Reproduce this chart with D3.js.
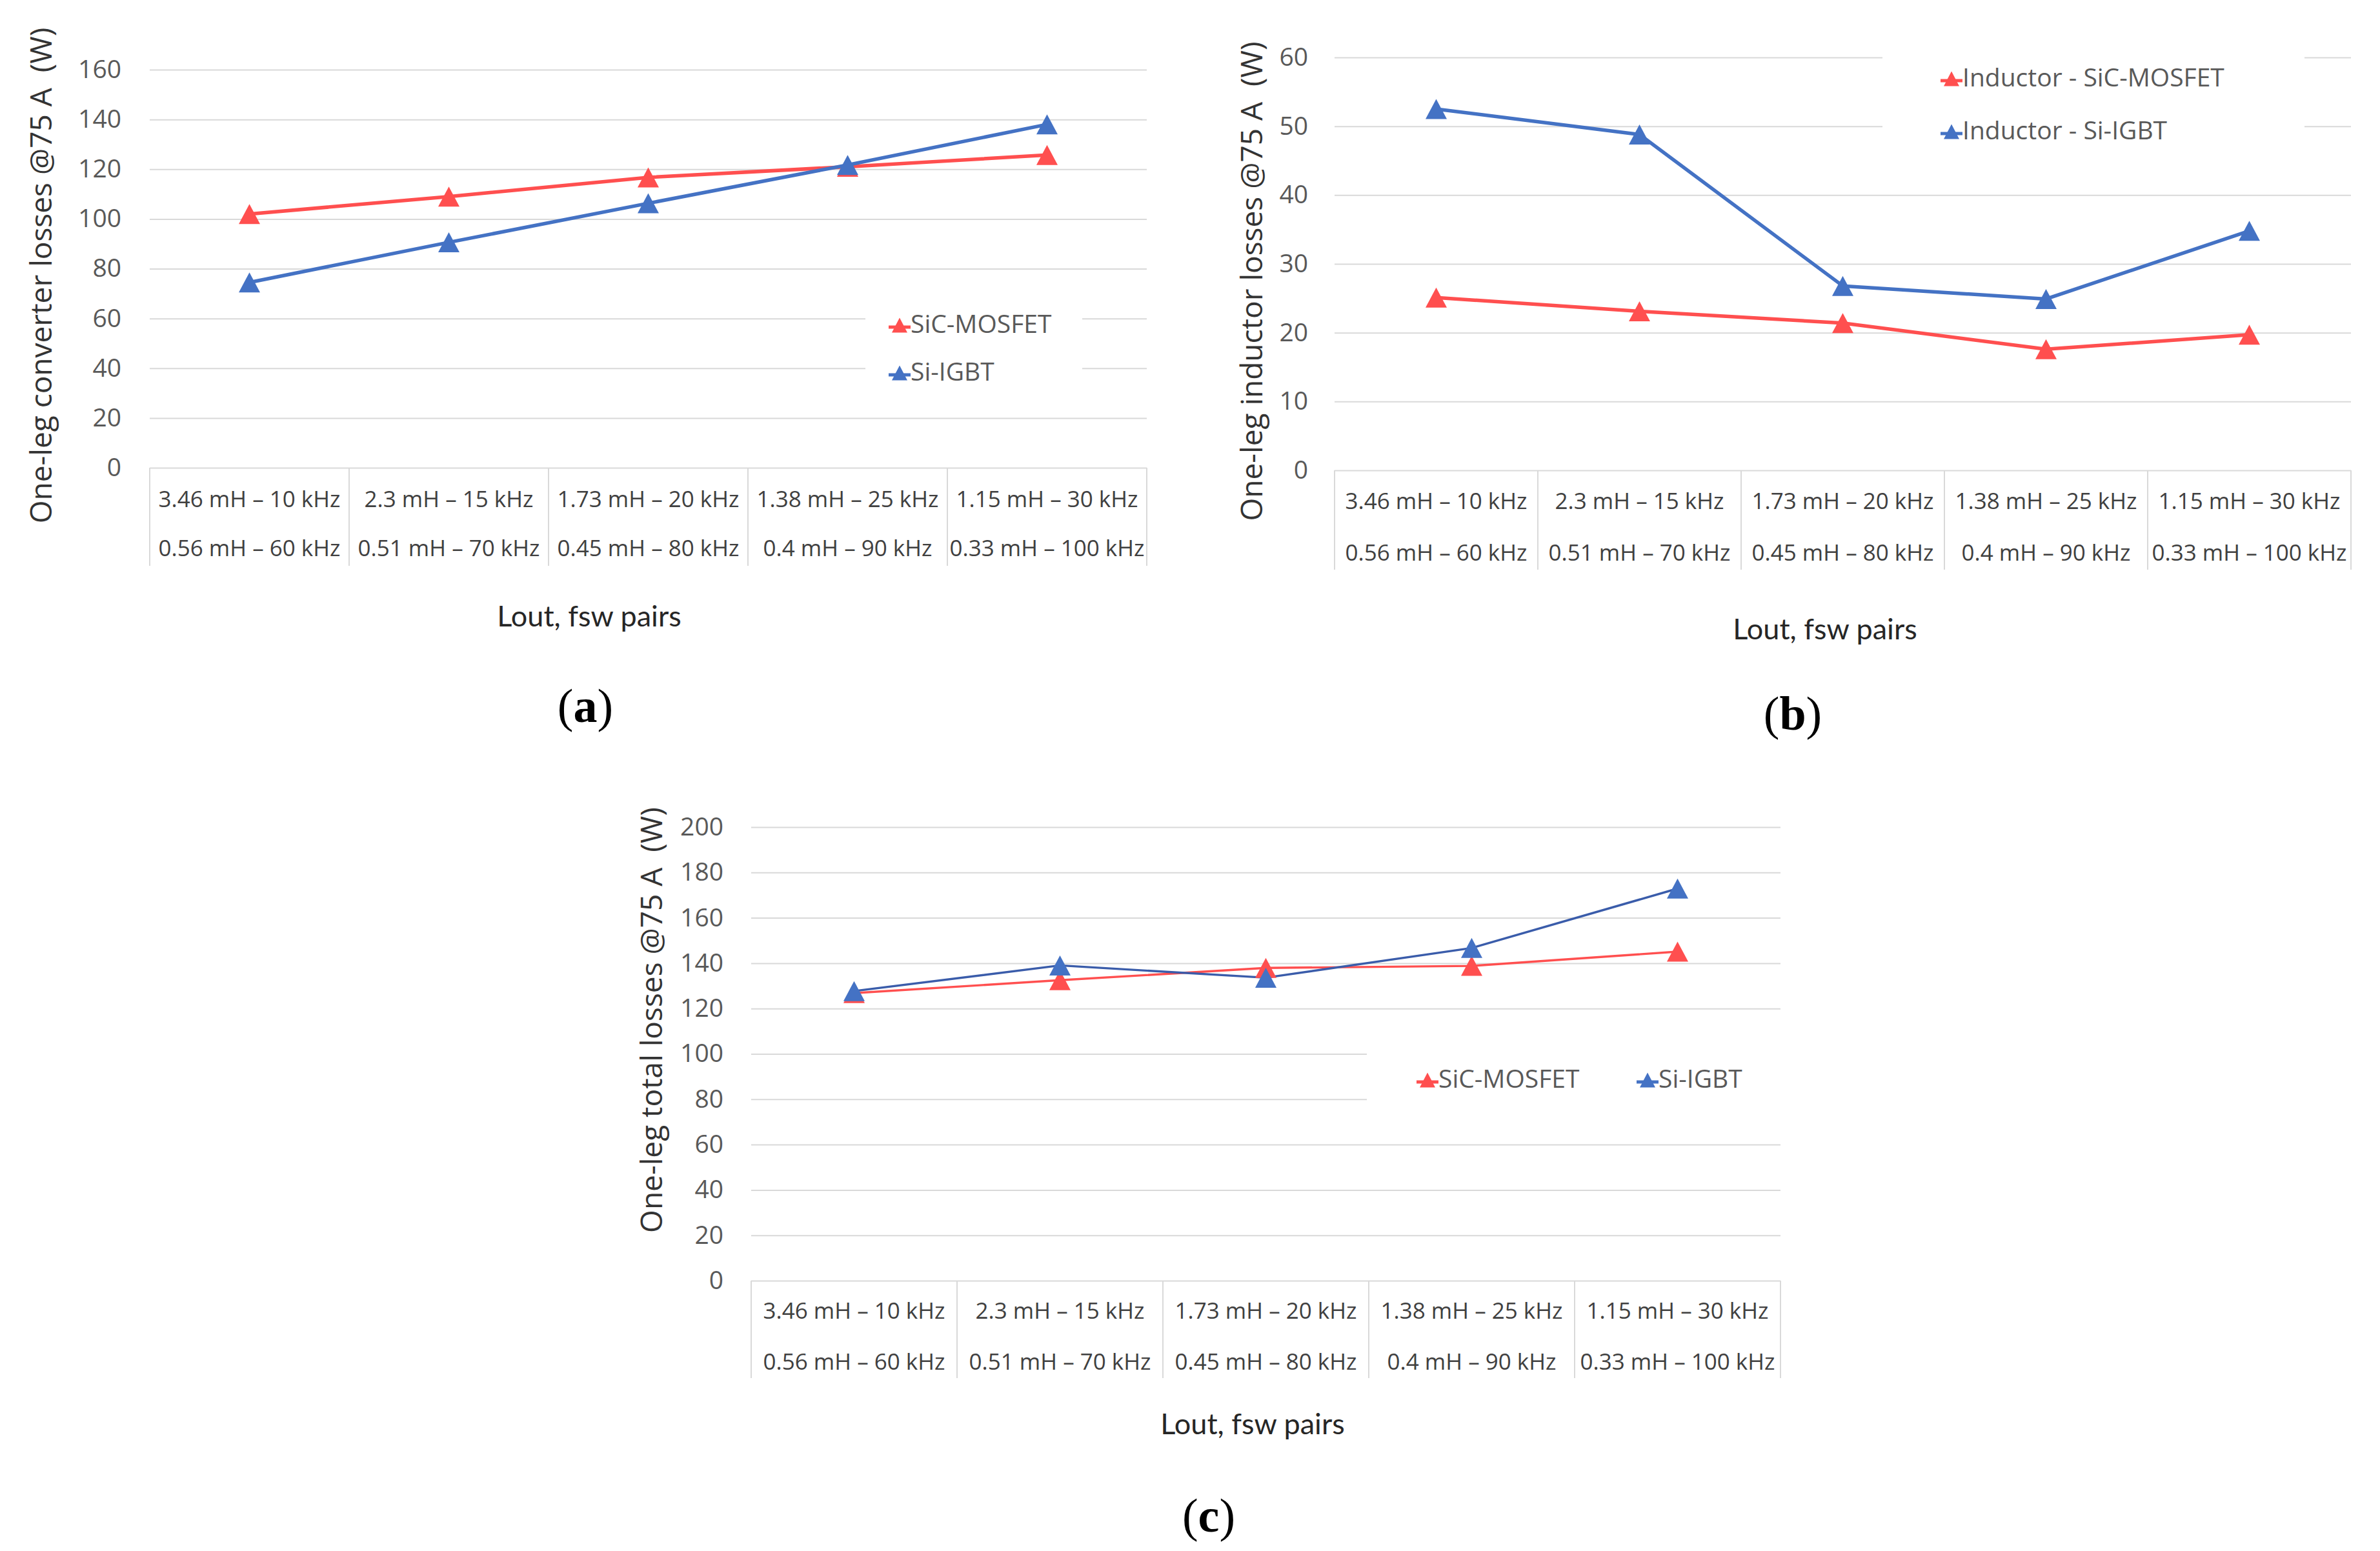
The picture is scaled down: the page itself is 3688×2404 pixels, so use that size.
<!DOCTYPE html>
<html>
<head>
<meta charset="utf-8">
<script src="https://cdn.jsdelivr.net/npm/d3@7"></script>
<style>
  body { margin: 0; background: #fff; }
</style>
</head>
<body>
<div id="chart"></div>
<script>
// Lout, fsw pairs (two rows per category)
const catTop = ['3.46 mH \u2013 10 kHz', '2.3 mH \u2013 15 kHz', '1.73 mH \u2013 20 kHz', '1.38 mH \u2013 25 kHz', '1.15 mH \u2013 30 kHz'];
const catBottom = ['0.56 mH \u2013 60 kHz', '0.51 mH \u2013 70 kHz', '0.45 mH \u2013 80 kHz', '0.4 mH \u2013 90 kHz', '0.33 mH \u2013 100 kHz'];

// (a) converter losses
const convSiC = [102, 109, 116.7, 121, 125.7];
const convIGBT = [74.5, 90.6, 106.3, 121.7, 138];
// (b) inductor losses
const indSiC = [25.1, 23.1, 21.4, 17.6, 19.7];
const indIGBT = [52.5, 48.8, 26.8, 24.9, 34.8];
// (c) total losses
const totSiC = [126.8, 132.5, 137.9, 138.8, 145.1];
const totIGBT = [127.7, 139, 133.6, 146.7, 172.9];

const ticksA = [0, 20, 40, 60, 80, 100, 120, 140, 160];
const ticksB = [0, 10, 20, 30, 40, 50, 60];
const ticksC = [0, 20, 40, 60, 80, 100, 120, 140, 160, 180, 200];

const legendA = ['SiC-MOSFET', 'Si-IGBT'];
const legendB = ['Inductor - SiC-MOSFET', 'Inductor - Si-IGBT'];
const legendC = ['SiC-MOSFET', 'Si-IGBT'];

const RED = '#FF4F4F';
const BLUE = '#4472C4';

const W = 3688, H = 2404;
const svg = d3.select('#chart').append('svg')
    .attr('width', W).attr('height', H)
    .style('background', '#fff');

// layout of the three panels
const panels = [
    {
        sic: convSiC, igbt: convIGBT, ticks: ticksA, names: legendA, label: 'a',
        left: 232, right: 1777, top: 108, zero: 725, catBottom: 877, row1: 772, row2: 848,
        tickX: 188, yTitle: 'One-leg converter losses @75 A  (W)', yTitleX: 62, yTitleY: 427,
        xTitleX: 913, xTitleY: 954, labelX: 907, labelY: 1094,
        lineW: 5.5, igbtLine: BLUE,
        legendBox: [1341, 431, 336, 184], legendItems: [[1394, 504], [1394, 578]]
    },
    {
        sic: indSiC, igbt: indIGBT, ticks: ticksB, names: legendB, label: 'b',
        left: 2068, right: 3643, top: 89, zero: 729, catBottom: 883, row1: 775, row2: 855,
        tickX: 2027, yTitle: 'One-leg inductor losses @75 A  (W)', yTitleX: 1938, yTitleY: 436,
        xTitleX: 2828, xTitleY: 974, labelX: 2778, labelY: 1106,
        lineW: 5.5, igbtLine: BLUE,
        legendBox: [2917, 60, 654, 200], legendItems: [[3024, 122], [3024, 204]]
    },
    {
        sic: totSiC, igbt: totIGBT, ticks: ticksC, names: legendC, label: 'c',
        left: 1164, right: 2759, top: 1282, zero: 1985, catBottom: 2136, row1: 2030, row2: 2109,
        tickX: 1121, yTitle: 'One-leg total losses @75 A  (W)', yTitleX: 1008, yTitleY: 1581,
        xTitleX: 1941, xTitleY: 2206, labelX: 1873, labelY: 2349,
        lineW: 3.4, igbtLine: '#3A5CAA',
        legendBox: [2118, 1580, 641, 185], legendItems: [[2212, 1674], [2553, 1674]]
    }
];

function triangle(w, h) {
    return `M0,${-h / 2}L${w / 2},${h / 2}L${-w / 2},${h / 2}Z`;
}

function drawPanel(p) {
    const g = svg.append('g');
    const x = d3.scaleBand().domain(d3.range(catTop.length)).range([p.left, p.right]);
    const y = d3.scaleLinear().domain([0, d3.max(p.ticks)]).range([p.zero, p.top]);

    // gridlines
    g.append('g')
        .attr('transform', `translate(${p.left},0)`)
        .call(d3.axisLeft(y).tickValues(p.ticks).tickSize(-(p.right - p.left)).tickFormat(''))
        .call(a => a.select('.domain').remove())
        .call(a => a.selectAll('line').attr('stroke', '#d9d9d9').attr('stroke-width', 2));

    // tick labels
    g.append('g')
        .attr('transform', `translate(${p.tickX},0)`)
        .call(d3.axisLeft(y).tickValues(p.ticks).tickSize(0).tickPadding(0))
        .call(a => a.select('.domain').remove())
        .call(a => a.selectAll('text')
            .attr('font-family', 'Open Sans').attr('font-size', 39).attr('fill', '#595959'));

    // category separators
    const bounds = x.domain().map(i => x(i)).concat([p.right]);
    g.selectAll('.sep').data(bounds).enter().append('line')
        .attr('x1', d => d).attr('x2', d => d)
        .attr('y1', p.zero).attr('y2', p.catBottom)
        .attr('stroke', '#d9d9d9').attr('stroke-width', 2);

    // category labels
    [[catTop, p.row1], [catBottom, p.row2]].forEach(([labels, yy]) => {
        g.selectAll(null).data(labels).enter().append('text')
            .attr('x', (d, i) => x(i) + x.bandwidth() / 2)
            .attr('y', yy)
            .attr('text-anchor', 'middle')
            .attr('dominant-baseline', 'central')
            .attr('font-family', 'Open Sans').attr('font-size', 35).attr('fill', '#404040')
            .text(d => d);
    });

    // legend box hides gridlines behind it
    const [bx, by, bw, bh] = p.legendBox;
    g.append('rect').attr('x', bx).attr('y', by).attr('width', bw).attr('height', bh).attr('fill', '#fff');

    // series
    const series = [
        {values: p.sic, line: RED, marker: RED},
        {values: p.igbt, line: p.igbtLine, marker: BLUE}
    ];
    const line = d3.line().x((d, i) => x(i) + x.bandwidth() / 2).y(d => y(d));
    series.forEach(s => {
        g.append('path').datum(s.values)
            .attr('d', line)
            .attr('fill', 'none')
            .attr('stroke', s.line)
            .attr('stroke-width', p.lineW)
            .attr('stroke-linejoin', 'round');
    });
    series.forEach(s => {
        g.selectAll(null).data(s.values).enter().append('path')
            .attr('d', triangle(33, 31))
            .attr('transform', (d, i) => `translate(${x(i) + x.bandwidth() / 2},${y(d)})`)
            .attr('fill', s.marker);
    });

    // legend entries
    series.forEach((s, k) => {
        const [lx, ly] = p.legendItems[k];
        g.append('line')
            .attr('x1', lx - 17).attr('x2', lx + 17).attr('y1', ly + 3).attr('y2', ly + 3)
            .attr('stroke', s.marker).attr('stroke-width', 5);
        g.append('path').attr('d', triangle(24, 23))
            .attr('transform', `translate(${lx},${ly})`)
            .attr('fill', s.marker);
        g.append('text')
            .attr('x', lx + 17).attr('y', ly - 4)
            .attr('dominant-baseline', 'central')
            .attr('font-family', 'Open Sans').attr('font-size', 39).attr('fill', '#595959')
            .text(p.names[k]);
    });

    // axis titles
    g.append('text')
        .attr('transform', `translate(${p.yTitleX},${p.yTitleY}) rotate(-90)`)
        .attr('text-anchor', 'middle').attr('dominant-baseline', 'central')
        .attr('font-family', 'Open Sans').attr('font-size', 46).attr('fill', '#333')
        .style('white-space', 'pre')
        .text(p.yTitle);
    g.append('text')
        .attr('x', p.xTitleX).attr('y', p.xTitleY)
        .attr('text-anchor', 'middle').attr('dominant-baseline', 'central')
        .attr('font-family', 'Lato').attr('font-size', 45).attr('fill', '#262626')
        .text('Lout, fsw pairs');

    // panel label: (a), (b), (c)
    const lab = g.append('text')
        .attr('x', p.labelX).attr('y', p.labelY)
        .attr('text-anchor', 'middle').attr('dominant-baseline', 'central')
        .attr('font-family', 'Liberation Serif').attr('font-size', 74).attr('fill', '#000');
    lab.append('tspan').text('(');
    lab.append('tspan').attr('font-weight', 'bold').text(p.label);
    lab.append('tspan').text(')');
}

panels.forEach(drawPanel);
</script>
</body>
</html>
